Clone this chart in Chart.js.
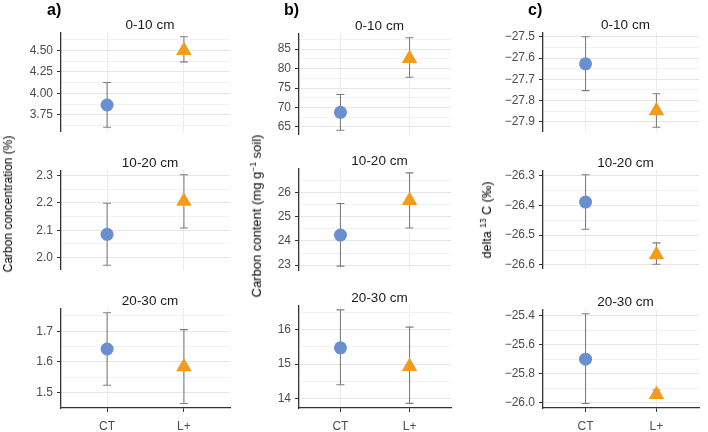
<!DOCTYPE html>
<html>
<head>
<meta charset="utf-8">
<script src="https://cdn.jsdelivr.net/npm/chart.js@4.4.1/dist/chart.umd.min.js"></script>
<style>
body { margin: 0; width: 708px; height: 432px; overflow: hidden; background: #fff; position: relative; font-family: "Liberation Sans", Arial, sans-serif; }
canvas { position: absolute; }
.lab { position: absolute; font-weight: bold; font-size: 16px; color: #000; line-height: 1; }
.strip { position: absolute; font-size: 13.5px; color: #1a1a1a; white-space: nowrap; transform: translate(-50%, -50%); }
.ytitle { position: absolute; font-size: 12px; color: #000; white-space: nowrap; transform: translate(-50%, -50%) rotate(-90deg); }
.ytitle sup { font-size: 8.5px; }
</style>
</head>
<body>
<script>
const treatments = ['CT', 'L+'];
const depths = ['0-10 cm', '10-20 cm', '20-30 cm'];

// a) carbon concentration (%), one [CT, L+] pair per depth
const concMean = [[3.865, 4.50], [2.085, 2.206], [1.642, 1.584]];
const concLow = [[3.606, 4.367], [1.972, 2.108], [1.524, 1.465]];
const concHigh = [[4.128, 4.66], [2.199, 2.303], [1.760, 1.705]];
const concTicks = [[3.75, 4.00, 4.25, 4.50], [2.0, 2.1, 2.2, 2.3], [1.5, 1.6, 1.7]];
const concDecimals = [2, 1, 1];

// b) carbon content (mg g-1 soil)
const contMean = [[68.76, 82.6], [24.24, 25.66], [15.47, 14.93]];
const contLow = [[64.16, 77.77], [22.96, 24.53], [14.40, 13.86]];
const contHigh = [[73.34, 87.9], [25.54, 26.8], [16.57, 16.07]];
const contTicks = [[65, 70, 75, 80, 85], [23, 24, 25, 26], [14, 15, 16]];
const contDecimals = [0, 0, 0];

// c) delta 13C (permil)
const deltaMean = [[-27.627, -27.848], [-26.389, -26.566], [-25.70, -25.945]];
const deltaLow = [[-27.753, -27.925], [-26.48, -26.598], [-26.007, -25.967]];
const deltaHigh = [[-27.5, -27.768], [-26.297, -26.526], [-25.385, -25.913]];
const deltaTicks = [[-27.9, -27.8, -27.7, -27.6, -27.5], [-26.6, -26.5, -26.4, -26.3], [-26.0, -25.8, -25.6, -25.4]];
const deltaDecimals = [1, 1, 1];

const panels = [
  { mean: concMean, low: concLow, high: concHigh, ticks: concTicks, dec: concDecimals },
  { mean: contMean, low: contLow, high: contHigh, ticks: contTicks, dec: contDecimals },
  { mean: deltaMean, low: deltaLow, high: deltaHigh, ticks: deltaTicks, dec: deltaDecimals }
];

// layout (pixels)
const colLeft = [61, 299, 543];
const colRight = [239, 460, 708];
const rowTop = [[31, 169, 307], [32, 167, 304], [31, 169, 308]];
const rowBottom = [[133, 271, 408], [136, 272, 408], [133, 270, 408]];
const panelLabels = [['a)', 47], ['b)', 284], ['c)', 528]];

const BLUE = '#6a8fd0';
const ORANGE = '#f39c1b';

const errorBars = {
  id: 'errorBars',
  beforeDatasetsDraw(chart, args, opts) {
    const { ctx, scales: { x, y } } = chart;
    ctx.save();
    ctx.strokeStyle = '#7f7f7f';
    ctx.lineWidth = 1.1;
    opts.low.forEach((lo, i) => {
      const px = x.getPixelForValue(i + 1);
      const p1 = y.getPixelForValue(lo);
      const p2 = y.getPixelForValue(opts.high[i]);
      ctx.beginPath();
      ctx.moveTo(px, p1); ctx.lineTo(px, p2);
      ctx.moveTo(px - 4, p1); ctx.lineTo(px + 4, p1);
      ctx.moveTo(px - 4, p2); ctx.lineTo(px + 4, p2);
      ctx.stroke();
    });
    ctx.restore();
  }
};

function fmt(v, d) {
  return v.toFixed(d).replace('-', '\u2212');
}

function makePanel(col, row) {
  const p = panels[col];
  const mean = p.mean[row], low = p.low[row], high = p.high[row];
  const major = p.ticks[row];
  // ggplot style 5% expansion of the data range
  const lo = Math.min(...low, ...mean), hi = Math.max(...high, ...mean);
  const pad = (hi - lo) * 0.05;
  const ymin = lo - pad, ymax = hi + pad;
  const step = major[1] - major[0];
  const minor = [];
  for (let v = major[0] - step / 2; v <= ymax; v += step) {
    if (v >= ymin) minor.push(v);
  }

  const W = 50, padT = 10, padB = 10;
  const isBottom = row === 2;
  const xH = isBottom ? 24 : 0;
  const plotW = colRight[col] - colLeft[col];
  const plotH = rowBottom[col][row] - rowTop[col][row];
  const canvas = document.createElement('canvas');
  const width = W + plotW;
  const height = padT + plotH + (isBottom ? xH : padB);
  canvas.width = width; canvas.height = height;
  canvas.style.left = (colLeft[col] - W) + 'px';
  canvas.style.top = (rowTop[col][row] - padT) + 'px';
  canvas.style.width = width + 'px'; canvas.style.height = height + 'px';
  document.body.appendChild(canvas);

  const strip = document.createElement('div');
  strip.className = 'strip';
  strip.textContent = depths[row];
  strip.style.left = ((colLeft[col] + colRight[col]) / 2) + 'px';
  strip.style.top = (rowTop[col][row] - 7) + 'px';
  document.body.appendChild(strip);

  new Chart(canvas, {
    type: 'scatter',
    data: {
      datasets: [
        { data: [{ x: 1, y: mean[0] }], backgroundColor: BLUE, borderColor: BLUE, pointStyle: 'circle', pointRadius: 6.5, borderWidth: 0 },
        { data: [{ x: 2, y: mean[1] }], backgroundColor: ORANGE, borderColor: ORANGE, pointStyle: 'triangle', pointRadius: 9, borderWidth: 0 }
      ]
    },
    options: {
      responsive: false,
      animation: false,
      devicePixelRatio: 1,
      events: [],
      layout: { padding: { left: 0, right: 0, top: padT, bottom: isBottom ? 0 : padB } },
      plugins: {
        legend: { display: false },
        tooltip: { enabled: false },
        errorBars: { low: low, high: high }
      },
      scales: {
        x: {
          type: 'linear',
          min: 0.4, max: 2.6,
          afterBuildTicks: s => { s.ticks = treatments.map((t, i) => ({ value: i + 1 })); },
          afterFit: s => { s.height = xH; },
          grid: { color: '#ebebeb', lineWidth: 1, drawTicks: isBottom, tickLength: 4, tickColor: '#333' },
          border: { display: isBottom, color: '#333', width: 1.3 },
          ticks: {
            display: isBottom,
            color: '#4d4d4d',
            font: { family: '"Liberation Sans", Arial, sans-serif', size: 12 },
            padding: 7,
            maxRotation: 0,
            callback: v => treatments[v - 1]
          }
        },
        y: {
          type: 'linear',
          min: ymin, max: ymax,
          afterBuildTicks: s => {
            s.ticks = major.map(v => ({ value: v, minor: false }))
              .concat(minor.map(v => ({ value: v, minor: true })));
          },
          afterFit: s => { s.width = W; },
          grid: {
            color: c => (c.tick && c.tick.minor) ? '#f2f2f2' : '#e6e6e6',
            lineWidth: 1,
            tickLength: 4,
            tickColor: c => (c.tick && c.tick.minor) ? 'rgba(0,0,0,0)' : '#333'
          },
          border: { display: true, color: '#333', width: 1.3 },
          ticks: {
            color: '#4d4d4d',
            font: { family: '"Liberation Sans", Arial, sans-serif', size: 12 },
            padding: 4,
            autoSkip: false,
            callback: (v, i, ticks) => ticks[i].minor ? '' : fmt(v, p.dec[row])
          }
        }
      }
    },
    plugins: [errorBars]
  });
}

for (let c = 0; c < 3; c++) {
  for (let r = 0; r < 3; r++) makePanel(c, r);
  const lab = document.createElement('div');
  lab.className = 'lab';
  lab.textContent = panelLabels[c][0];
  lab.style.left = panelLabels[c][1] + 'px';
  lab.style.top = '2px';
  document.body.appendChild(lab);
}

const titles = [
  ['Carbon concentration (%)', 8, 204, 12],
  ['Carbon content (mg g<sup>\u22121</sup> soil)', 256, 216, 13],
  ['delta <sup>13</sup> C (\u2030)', 486, 220, 12.5]
];
titles.forEach(([html, x, y, size]) => {
  const d = document.createElement('div');
  d.className = 'ytitle';
  d.innerHTML = html;
  d.style.left = x + 'px';
  d.style.top = y + 'px';
  d.style.fontSize = size + 'px';
  document.body.appendChild(d);
});
</script>
</body>
</html>
